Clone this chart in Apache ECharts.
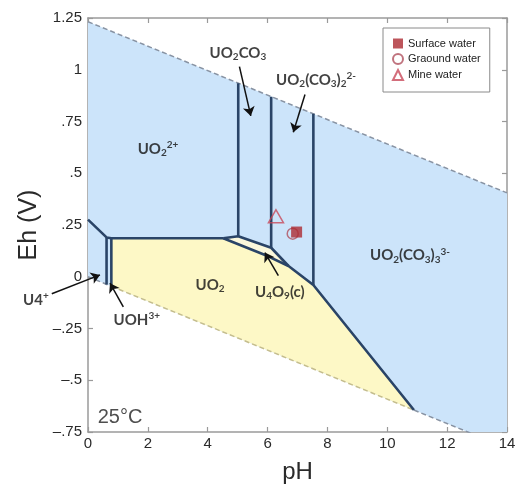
<!DOCTYPE html>
<html><head><meta charset="utf-8">
<script src="https://cdn.jsdelivr.net/npm/echarts@6/dist/echarts.min.js"></script>
<style>html,body{margin:0;padding:0;background:#fff}#c{width:522px;height:489px}</style>
</head><body><div id="c"></div>
<script>
// ---- tick labels ----
const xTicks = [0, 2, 4, 6, 8, 10, 12, 14];
const yTickValues = [-0.75, -0.5, -0.25, 0, 0.25, 0.5, 0.75, 1, 1.25];
const yTickLabels = ['\u2013.75', '\u2013.5', '\u2013.25', '0', '.25', '.5', '.75', '1', '1.25'];

// ---- water stability lines (pH, Eh) ----
const upperWater = [[0, 1.232], [14, 0.405]];
const lowerWaterLeft = [[0, 0], [0.78, -0.046]];
const lowerWaterMid = [[0.78, -0.046], [10.89, -0.644]];
const lowerWaterRight = [[10.89, -0.644], [14, -0.827]];

// ---- field regions ----
const blueRegion = [[0, 1.232], [14, 0.405], [14, -0.75], [12.69, -0.75], [0, 0]];
const uo2Region = [[0.78, -0.046], [0.78, 0.186], [4.52, 0.186], [6.0, 0.10], [6.7, 0.052], [7.53, -0.04], [10.89, -0.644]];
const u4o9Region = [[4.52, 0.186], [5.02, 0.196], [6.12, 0.14], [6.7, 0.052], [6.0, 0.10]];

// ---- boundaries ----
const u4Boundary = [[0, 0.276], [0.62, 0.19], [0.78, 0.186], [4.52, 0.186]];
const u4UohBoundary = [[0.62, 0.19], [0.62, -0.037]];
const uohUo2Boundary = [[0.78, 0.186], [0.78, -0.046]];
const u4o9Upper = [[4.52, 0.186], [5.02, 0.196], [6.12, 0.14], [6.7, 0.052]];
const uo2Upper = [[4.52, 0.186], [6.0, 0.10], [6.7, 0.052], [7.53, -0.04], [10.89, -0.644]];
const vert1 = [[5.02, 0.196], [5.02, 0.935]];
const vert2 = [[6.12, 0.14], [6.12, 0.870]];
const vert3 = [[7.53, -0.04], [7.53, 0.787]];

// ---- samples ----
const surfaceWater = [[6.97, 0.216]];
const groundWater = [[6.84, 0.208]];
const mineWater = [[6.28, 0.292]];

// ---- annotation arrows ----
const arrows = [
  [[5.06, 1.015], [5.44, 0.777]],
  [[7.25, 0.88], [6.86, 0.698]],
  [[6.36, 0.006], [5.91, 0.117]],
  [[-1.21, -0.082], [0.40, 0.009]],
  [[1.18, -0.146], [0.735, -0.031]]
];

// ---- species labels ----
const labels = [
  {pos: [2.34, 0.618], text: '{r|UO}{sb|2}{sp|2+}'},
  {pos: [5.01, 1.08], text: '{r|UO}{sb|2}{r|CO}{sb|3}'},
  {pos: [7.62, 0.952], text: '{r|UO}{sb|2}{r|(CO}{sb|3}{r|)}{sb|2}{sp|2-}'},
  {pos: [10.76, 0.103], text: '{r|UO}{sb|2}{r|(CO}{sb|3}{r|)}{sb|3}{sp|3-}'},
  {pos: [4.08, -0.04], text: '{r|UO}{sb|2}'},
  {pos: [6.41, -0.074], text: '{r|U}{sb|4}{r|O}{sb|9}{r|(c)}'},
  {pos: [-1.74, -0.112], text: '{r|U4}{sp|+}'},
  {pos: [1.63, -0.208], text: '{r|UOH}{sp|3+}'},
  {pos: [1.07, -0.68], text: '{t|25°C}'}
];

const LINE = '#2a4467';
function poly(points, color, z) {
  return {type: 'custom', coordinateSystem: 'cartesian2d', clip: true, silent: true, z: z,
    data: [[0, 0]], encode: {x: 0, y: 1},
    renderItem: function (params, api) {
      return {type: 'polygon', shape: {points: points.map(p => api.coord(p))},
        style: {fill: color, stroke: null}};
    }};
}
function bline(data) {
  return {type: 'line', data: data, showSymbol: false, symbol: 'none', silent: true, z: 4,
    lineStyle: {color: LINE, width: 2.6}, animation: false};
}
function dline(data, color) {
  return {type: 'line', data: data, showSymbol: false, symbol: 'none', silent: true, z: 3,
    lineStyle: {color: color, width: 1.5, type: [5, 3]}, animation: false};
}
const axisCol = '#9a9a9a';
const baseAxis = {
  type: 'value', axisLine: {show: true, onZero: false, lineStyle: {color: axisCol, width: 1.5}},
  axisTick: {show: true, inside: true, length: 5, lineStyle: {color: axisCol, width: 1.2}},
  splitLine: {show: false}
};
const chart = echarts.init(document.getElementById('c'), null, {renderer: 'canvas'});
chart.setOption({
  animation: false,
  backgroundColor: '#fff',
  grid: {left: 88, right: 15, top: 18, bottom: 52},
  xAxis: [
    Object.assign({}, baseAxis, {min: xTicks[0], max: xTicks[xTicks.length - 1], interval: 2, position: 'bottom',
      axisLabel: {color: '#2a2a2a', fontSize: 15, margin: 4, fontFamily: 'Liberation Sans'},
      name: 'pH', nameLocation: 'middle', nameGap: 28,
      nameTextStyle: {fontSize: 24, color: '#2a2a2a', fontFamily: 'Liberation Sans'}}),
    Object.assign({}, baseAxis, {min: 0, max: 14, interval: 2, position: 'top', axisLabel: {show: false}})
  ],
  yAxis: [
    Object.assign({}, baseAxis, {min: -0.75, max: 1.25, interval: 0.25, position: 'left',
      axisLabel: {color: '#2a2a2a', fontSize: 15, margin: 6, fontFamily: 'Liberation Sans',
        formatter: function (v) { const i = yTickValues.findIndex(t => Math.abs(t - v) < 1e-9); return i >= 0 ? yTickLabels[i] : ''; }},
      name: 'Eh (V)', nameLocation: 'middle', nameGap: 46,
      nameTextStyle: {fontSize: 25, color: '#2a2a2a', fontFamily: 'Liberation Sans'}}),
    Object.assign({}, baseAxis, {min: -0.75, max: 1.25, interval: 0.25, position: 'right', axisLabel: {show: false}})
  ],
  legend: {
    orient: 'vertical', left: 383, top: 28, padding: [10, 9, 11, 9], itemGap: 4,
    itemWidth: 10, itemHeight: 10, borderColor: '#8a8a8a', borderWidth: 1, backgroundColor: '#fff',
    textStyle: {fontSize: 11, color: '#222', fontFamily: 'Liberation Sans'},
    data: [{name: 'Surface water', icon: 'rect'}, {name: 'Graound water', icon: 'circle'}, {name: 'Mine water', icon: 'triangle'}]
  },
  series: [
    poly(blueRegion, '#cce4fa', 1),
    poly(uo2Region, '#fdf8c6', 2),
    poly(u4o9Region, '#fbf8dc', 2),
    dline(upperWater, '#8893a3'),
    dline(lowerWaterLeft, '#8893a3'),
    dline(lowerWaterMid, '#c4bd8e'),
    dline(lowerWaterRight, '#8893a3'),
    bline(u4Boundary), bline(u4UohBoundary), bline(uohUo2Boundary),
    bline(u4o9Upper), bline(uo2Upper), bline(vert1), bline(vert2), bline(vert3),
    {type: 'lines', coordinateSystem: 'cartesian2d', clip: false, silent: true, z: 5,
      symbol: ['none', 'arrow'], symbolSize: 9,
      lineStyle: {color: '#111', width: 1.5, opacity: 1, curveness: 0},
      data: arrows.map(a => ({coords: a}))},
    {type: 'scatter', clip: false, silent: true, z: 6, symbolSize: 1,
      itemStyle: {color: 'rgba(0,0,0,0)'},
      data: labels.map(l => ({value: l.pos, label: {formatter: l.text}})),
      label: {show: true, position: 'inside',
        rich: {
          r: {fontSize: 15, fontWeight: 'bold', fontFamily: 'Lato', color: '#111', lineHeight: 18, verticalAlign: 'middle'},
          sb: {fontSize: 10, fontWeight: 'bold', fontFamily: 'Lato', color: '#111', lineHeight: 10, verticalAlign: 'bottom'},
          sp: {fontSize: 10, fontWeight: 'bold', fontFamily: 'Lato', color: '#111', lineHeight: 10, verticalAlign: 'top'},
          t: {fontSize: 20, fontFamily: 'Liberation Sans', color: '#222'}
        }}},
    {name: 'Graound water', type: 'scatter', symbol: 'circle', symbolSize: 11, z: 8,
      itemStyle: {color: 'rgba(255,255,255,0)', borderColor: '#b0505e', borderWidth: 1.5}, data: groundWater},
    {name: 'Surface water', type: 'scatter', symbol: 'rect', symbolSize: 11, z: 9,
      itemStyle: {color: '#ad2a32'}, data: surfaceWater},
    {name: 'Mine water', type: 'scatter', symbol: 'triangle', symbolSize: [15, 13], z: 9,
      itemStyle: {color: 'rgba(255,255,255,0)', borderColor: '#c8485a', borderWidth: 1.5}, data: mineWater}
  ]
});
</script></body></html>
